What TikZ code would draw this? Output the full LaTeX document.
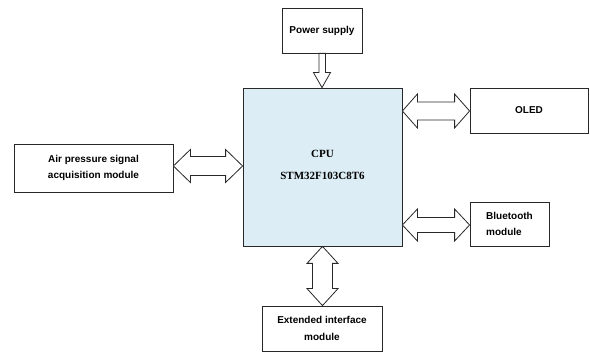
\documentclass[tikz,border=0pt]{standalone}
\usepackage{fontspec}
\setmainfont{Liberation Serif}
\newfontfamily\labelfont{Liberation Sans}
\usetikzlibrary{calc,shadows}
\definecolor{cpublue}{RGB}{220,237,245}
\definecolor{edge}{RGB}{40,40,40}
\newcommand\myhdbl[5]{%
\draw[fatarrow] let \p1=(#1), \p2=(#2) in
 (\x1,\y1) -- (\x1+#5,\y1+#4) -- (\x1+#5,\y1+#3) -- (\x2-#5,\y1+#3) -- (\x2-#5,\y1+#4)
 -- (\x2,\y1) -- (\x2-#5,\y1-#4) -- (\x2-#5,\y1-#3) -- (\x1+#5,\y1-#3) -- (\x1+#5,\y1-#4) -- cycle;}
\newcommand\myvdbl[5]{%
\draw[fatarrow] let \p1=(#1), \p2=(#2) in
 (\x1,\y1) -- (\x1+#4,\y1-#5) -- (\x1+#3,\y1-#5) -- (\x1+#3,\y2+#5) -- (\x1+#4,\y2+#5)
 -- (\x1,\y2) -- (\x1-#4,\y2+#5) -- (\x1-#3,\y2+#5) -- (\x1-#3,\y1-#5) -- (\x1-#4,\y1-#5) -- cycle;}
\begin{document}
\begin{tikzpicture}[x=1pt,y=-1pt,
  box/.style={draw=edge, line width=0.8pt, fill=white, inner sep=0pt,
    drop shadow={shadow xshift=1.2pt, shadow yshift=-1.5pt, opacity=0.3},
    font=\labelfont\bfseries\fontsize{10}{16.5}\selectfont, align=center},
  fatarrow/.style={draw=edge, line width=0.8pt, fill=white, line join=miter},
  cputext/.style={font=\bfseries\fontsize{11}{22}\selectfont, align=center, inner sep=0pt}]
\useasboundingbox (0,0) rectangle (590,352);
\node[box, minimum width=80pt, minimum height=45pt] (power) at (322,30.5) {Power supply};
\node[box, fill=cpublue, minimum width=159pt, minimum height=158pt] (cpu) at (322.5,167) {};
\node[cputext] (cputxt) at (322.5,164.5) {CPU\\STM32F103C8T6};
\node[box, minimum width=159pt, minimum height=48pt] (air) at (93.5,168) {Air pressure signal\\acquisition module};
\node[box, minimum width=118pt, minimum height=45pt] (oled) at (529,110.5) {OLED};
\node[box, minimum width=79pt, minimum height=44pt, align=left, xshift=2pt] (bt) at (507.5,224) {Bluetooth\\module};
\node[box, minimum width=120pt, minimum height=45pt] (ext) at (322,328.5) {Extended interface\\module};
% power arrow (single)
\draw[fatarrow] let \p1=(power.south), \p2=(cpu.north |- power.south), \p3=(cpu.north) in
  (\x1-3pt,\y1) -- (\x1+3.5pt,\y1) -- (\x1+3.5pt,\y3+15pt) -- (\x1+8.5pt,\y3+15pt)
  -- (\x1,\y3) -- (\x1-8.5pt,\y3+15pt) -- (\x1-3pt,\y3+15pt) -- cycle;
\coordinate (aL) at ([yshift=2pt]air.east);
\myhdbl{aL}{cpu.west |- aL}{9.5pt}{16.5pt}{17pt}
\coordinate (oR) at ([yshift=-0.5pt]oled.west);
\myhdbl{cpu.east |- oR}{oR}{9pt}{17pt}{15pt}
\coordinate (bR) at ([yshift=-1pt]bt.west);
\myhdbl{cpu.east |- bR}{bR}{7.5pt}{16pt}{15pt}
\myvdbl{cpu.south}{ext.north}{10pt}{15.5pt}{17pt}
\end{tikzpicture}
\end{document}
